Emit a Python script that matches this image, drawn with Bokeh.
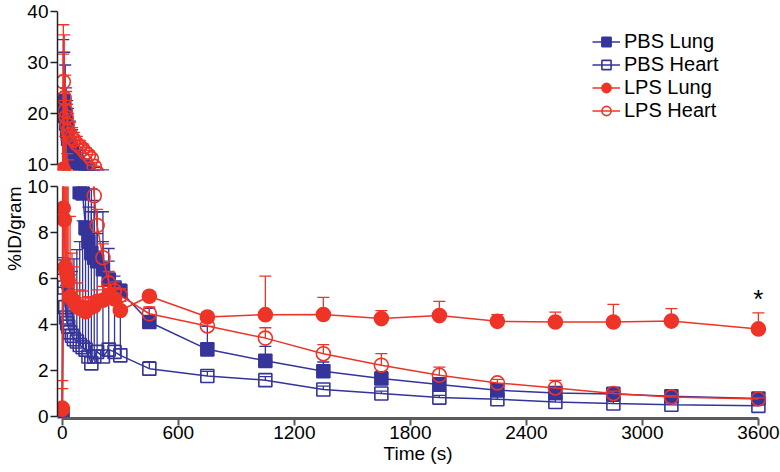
import numpy as np
from bokeh.plotting import figure
from bokeh.layouts import column
from bokeh.models import Range1d, Legend, LegendItem, Title, FixedTicker, ColumnDataSource
from bokeh.embed import file_html
from bokeh.resources import INLINE
from bokeh.core.properties import value

# ---------------- data ----------------
time_s = [0, 5, 10, 15, 20, 25, 30, 40, 50, 60, 75, 90, 105, 120, 135, 150, 165, 180,
          210, 240, 270, 300, 450, 750, 1050, 1350, 1650, 1950, 2250, 2550, 2850, 3150, 3600]

pbs_lung = [0.05, 22.5, 21.0, 19.5, 18.0, 16.5, 15.0, 13.5, 12.3, 11.3, 10.5, 9.75, 9.7, 8.2,
            7.6, 7.1, 6.9, 6.75, 6.4, 5.95, 5.6, 5.45, 4.1, 2.91, 2.41, 1.96, 1.64, 1.38,
            1.13, 1.01, 0.97, 0.87, 0.77]
pbs_lung_err = [0, 12, 11, 10, 7, 6, 6, 5, 4.5, 4, 3.5, 3, 2.5, 2.5, 2.5, 1.8, 2, 1.2, 1.2,
                0.8, 0.5, 0.3, 0.6, 1.0, 0.63, 0.4, 0.3, 0.3, 0.2, 0.2, 0.15, 0.15, 0.15]

pbs_heart = [0.05, 5.9, 5.6, 4.75, 4.3, 4.05, 3.9, 3.65, 3.5, 3.35, 3.25, 3.1, 3.0, 2.9, 2.6,
             2.3, 2.6, 2.8, 2.6, 2.9, 2.8, 2.65, 2.07, 1.75, 1.57, 1.16, 0.99, 0.81, 0.74,
             0.62, 0.55, 0.5, 0.45]
pbs_heart_err = [0, 1.0, 1.2, 1.5, 1.4, 1.5, 1.8, 2.5, 2.8, 3.5, 4.0, 4.5, 5.5, 5.0, 6.5, 7.6,
                 6.8, 6.1, 6.3, 4.4, 3.0, 2.9, 0.3, 0.2, 0.15, 0.15, 0.1, 0.1, 0.1, 0.1, 0.1,
                 0.1, 0.1]

lps_lung = [0.35, 9.05, 8.55, 6.5, 6.3, 6.1, 5.9, 5.2, 5.1, 5.0, 4.8, 4.7, 4.75, 4.55, 4.7,
            4.75, 4.8, 5.0, 5.05, 5.25, 5.1, 4.6, 5.22, 4.32, 4.42, 4.43, 4.25, 4.38, 4.13,
            4.1, 4.1, 4.14, 3.8]
lps_lung_err = [0.85, 22.6, 14, 9, 8.5, 6, 5, 3.5, 2, 1.5, 1.0, 0.8, 0.7, 0.6, 0.5, 0.4, 0.4,
                0.5, 0.6, 0.5, 0.5, 0.4, 0.2, 0.2, 1.68, 0.74, 0.35, 0.62, 0.29, 0.43, 0.77,
                0.54, 0.7]

lps_heart = [0.3, 26.2, 23.0, 20.5, 19.3, 17.8, 16.5, 15.8, 15.2, 14.8, 14.0, 13.5, 13.0,
             12.3, 11.8, 11.1, 9.6, 8.3, 6.9, 5.8, 5.45, 5.25, 4.46, 3.93, 3.4, 2.72, 2.22,
             1.78, 1.45, 1.23, 0.99, 0.84, 0.75]
lps_heart_err = [1.25, 11.2, 12.4, 7, 5, 4, 3.5, 2.5, 2, 1.5, 1.5, 1.2, 1.0, 1.0, 0.9, 0.8,
                 0.8, 0.7, 0.6, 0.5, 0.4, 0.3, 0.3, 0.2, 0.45, 0.4, 0.5, 0.36, 0.15, 0.33,
                 0.1, 0.05, 0.05]

series_names = ["PBS Lung", "PBS Heart", "LPS Lung", "LPS Heart"]
x_ticks = [0, 600, 1200, 1800, 2400, 3000, 3600]
lower_y_ticks = [0, 2, 4, 6, 8, 10]
upper_y_ticks = [10, 20, 30, 40]
star_x = [3600]
star_y = [5.1]

BLUE = "#34349a"
RED = "#ee3327"
FONT = "Liberation Sans"

series = [
    ("PBS Lung", pbs_lung, pbs_lung_err, BLUE, "square", True, 13),
    ("PBS Heart", pbs_heart, pbs_heart_err, BLUE, "square", False, 13),
    ("LPS Lung", lps_lung, lps_lung_err, RED, "circle", True, 14),
    ("LPS Heart", lps_heart, lps_heart_err, RED, "circle", False, 14),
]

FRAME_W = 721
X_RANGE = (-25, 3704)


def make_fig(y0, y1, frame_h, mb_top, mb_bottom, show_x):
    p = figure(frame_width=FRAME_W, frame_height=frame_h,
               x_range=Range1d(*X_RANGE), y_range=Range1d(y0, y1),
               output_backend="svg", toolbar_location=None,
               x_axis_location="below" if show_x else None,
               min_border_left=57, min_border_right=2,
               min_border_top=mb_top, min_border_bottom=mb_bottom)
    p.xgrid.visible = False
    p.ygrid.visible = False
    p.outline_line_color = None
    p.background_fill_color = "white"
    p.border_fill_color = "white"
    return p


def draw(p):
    out = {}
    t = np.array(time_s, dtype=float)
    for name, vals, errs, color, marker, filled, size in series:
        v = np.array(vals, dtype=float)
        e = np.array(errs, dtype=float)
        m = e > 0
        esrc = ColumnDataSource(dict(t=t[m], v=v[m], top=(v + e)[m]))
        src = ColumnDataSource(dict(t=t, v=v))
        p.segment(x0="t", y0="v", x1="t", y1="top", source=esrc,
                  line_color=color, line_width=1.3)
        p.scatter(x="t", y="top", source=esrc, marker="dash", size=12,
                  line_color=color, line_width=1.3)
        ln = p.line(x="t", y="v", source=src, line_color=color, line_width=1.5)
        sc = p.scatter(x="t", y="v", source=src, marker=marker, size=size,
                       line_color=color, line_width=1.6,
                       fill_color=color if filled else None)
        out[name] = [ln, sc]
    return out


def style_yaxis(ax, ticks, bounds):
    ax.ticker = FixedTicker(ticks=ticks)
    ax.bounds = bounds
    ax.axis_line_color = "#222222"
    ax.axis_line_width = 1.5
    ax.major_tick_line_color = "#222222"
    ax.major_tick_line_width = 1.5
    ax.major_tick_out = 7
    ax.major_tick_in = 0
    ax.minor_tick_line_color = None
    ax.major_label_text_font = FONT
    ax.major_label_text_font_size = "19px"
    ax.major_label_text_color = "black"
    ax.major_label_standoff = 2


# upper panel (10-40)
p_up = make_fig(8.8, 40.0, 159, 11, 6, False)
r_up = draw(p_up)
style_yaxis(p_up.yaxis[0], upper_y_ticks, (10, 40))

# lower panel (0-10)
p_low = make_fig(-0.1, 10, 232, 10, 0, True)
draw(p_low)
style_yaxis(p_low.yaxis[0], lower_y_ticks, (0, 10))
xa = p_low.xaxis[0]
xa.ticker = FixedTicker(ticks=x_ticks)
xa.bounds = (0, 3600)
xa.axis_line_color = "#5b5b5b"
xa.axis_line_width = 3
xa.major_tick_line_color = "#5b5b5b"
xa.major_tick_line_width = 2
xa.major_tick_out = 7
xa.major_tick_in = 0
xa.minor_tick_line_color = None
xa.major_label_text_font = FONT
xa.major_label_text_font_size = "19px"
xa.major_label_text_color = "black"
xa.major_label_standoff = 0
xa.axis_label = "Time (s)"
xa.axis_label_text_font = FONT
xa.axis_label_text_font_size = "19px"
xa.axis_label_text_font_style = "normal"
xa.axis_label_text_color = "black"
xa.axis_label_standoff = 1

# star annotation
p_low.text(x=star_x, y=star_y, text=["*"], text_align="center", text_baseline="middle",
           text_font=value(FONT), text_font_size="26px", text_color="black")

# y-axis title (placed at the top end of the lower panel's left side)
ylab = Title(text="%ID/gram", align="right", standoff=0, text_font=FONT,
             text_font_size="19px", text_font_style="normal", text_color="black")
p_low.add_layout(ylab, "left")

# legend
items = [LegendItem(label=n, renderers=r_up[n]) for n in series_names]
leg = Legend(items=items, location=(535, 48), border_line_color=None,
             background_fill_alpha=0, padding=0, margin=0, spacing=0,
             glyph_width=28, glyph_height=23, label_height=23, label_standoff=4,
             label_text_font=FONT, label_text_font_size="20px", label_text_color="black")
p_up.add_layout(leg)

layout = column(p_up, p_low, spacing=0)
open("out.html", "w").write(file_html(layout, INLINE))
